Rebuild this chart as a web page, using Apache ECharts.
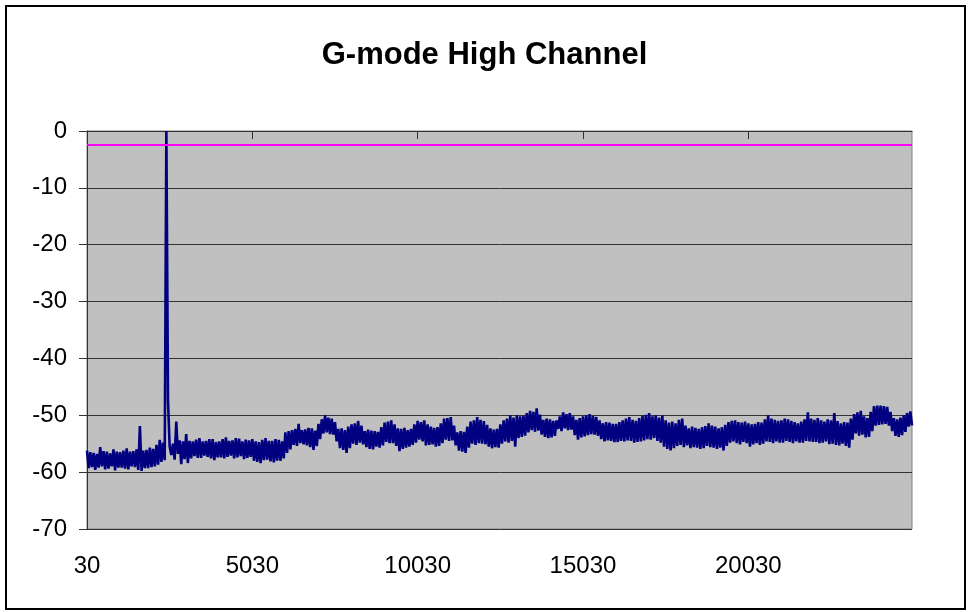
<!DOCTYPE html>
<html>
<head>
<meta charset="utf-8">
<script src="https://cdn.jsdelivr.net/npm/echarts@6/dist/echarts.min.js"></script>
<style>
  html, body { margin: 0; padding: 0; background: #fff; }
  #chart { width: 969px; height: 612px; }
</style>
</head>
<body>
<div id="chart"></div>
<script>
// x categories: 30, 80, 130 ... (step 50)
const xStart = 30;
const xStep = 50;
const xCount = 500;

// level, alternating top / bottom of the noise band
const level = [
  -56.2, -59.3, -56.5, -59.1, -56.6, -59.6, -56.8, -59.2, -55.6, -59.0, -56.3, -59.5, -56.4, -59.4, -56.7, -59.0, -56.0, -59.7, -56.4, -59.2,
  -56.5, -59.2, -56.2, -59.4, -55.8, -59.5, -56.4, -59.0, -56.3, -59.1, -56.0, -59.6, -51.9, -59.8, -56.2, -59.3, -56.1, -59.3, -55.7, -59.1,
  -55.9, -59.0, -55.2, -58.7, -54.3, -58.2, -54.8, -57.9, 0, -47.5, -55.5, -57.0, -55.0, -57.8, -51.1, -56.8, -54.4, -58.6, -54.6, -57.7,
  -53.3, -58.4, -54.5, -57.6, -54.6, -57.2, -54.3, -57.5, -54.0, -57.5, -54.6, -57.1, -54.5, -57.3, -54.2, -57.6, -54.2, -57.9, -54.7, -57.4,
  -54.6, -57.4, -54.2, -57.6, -53.9, -57.3, -54.5, -57.1, -54.4, -57.6, -54.0, -57.4, -54.1, -57.2, -54.6, -57.7, -54.3, -57.5, -54.4, -57.3,
  -54.2, -58.0, -54.6, -58.2, -54.7, -58.4, -54.3, -57.9, -54.0, -57.8, -54.5, -58.1, -54.5, -58.3, -54.2, -58.0, -54.3, -58.0, -54.6, -57.6,
  -53.0, -56.6, -52.8, -56.0, -52.6, -55.2, -52.4, -55.4, -51.5, -54.9, -52.6, -55.1, -52.5, -55.3, -52.2, -55.6, -52.3, -56.1, -52.7, -55.4,
  -51.5, -54.2, -50.7, -53.2, -50.0, -53.0, -50.4, -53.3, -50.6, -53.4, -51.2, -54.6, -52.4, -55.8, -52.3, -56.1, -52.6, -56.6, -52.0, -55.8,
  -51.6, -55.0, -51.4, -55.2, -51.0, -54.8, -51.8, -55.1, -52.8, -55.6, -52.5, -55.9, -52.7, -56.0, -52.8, -55.5, -52.9, -55.7, -52.1, -55.3,
  -51.3, -54.7, -51.1, -54.9, -50.9, -54.9, -51.6, -55.4, -52.3, -56.3, -52.4, -55.9, -52.2, -55.7, -52.6, -55.5, -52.4, -55.2, -51.6, -54.8,
  -51.0, -54.3, -51.2, -54.6, -50.9, -55.3, -51.6, -55.2, -52.0, -55.1, -52.2, -55.5, -52.1, -55.4, -51.4, -54.9, -50.6, -54.3, -50.5, -54.5,
  -50.3, -54.4, -51.8, -55.3, -53.0, -56.2, -52.8, -56.4, -52.9, -56.6, -52.0, -55.7, -51.1, -55.0, -50.9, -55.2, -50.3, -54.9, -50.8, -55.0,
  -51.0, -55.1, -51.7, -55.5, -52.3, -55.8, -52.5, -55.6, -52.4, -55.7, -51.6, -55.0, -50.9, -54.6, -50.6, -54.8, -50.0, -54.5, -50.4, -55.5,
  -50.0, -54.0, -50.2, -53.8, -50.1, -53.6, -49.6, -53.0, -49.2, -52.6, -49.4, -52.9, -48.8, -52.7, -49.9, -53.4, -50.8, -53.8, -50.6, -54.0,
  -50.7, -53.9, -51.0, -53.6, -50.9, -52.4, -50.2, -52.8, -49.5, -52.3, -49.8, -52.6, -49.6, -52.5, -50.2, -53.5, -50.8, -54.3, -50.5, -53.9,
  -50.2, -53.7, -50.0, -53.5, -49.8, -53.3, -50.1, -53.4, -50.3, -53.6, -50.9, -54.2, -51.4, -54.6, -51.2, -54.4, -51.3, -54.5, -51.5, -54.7,
  -51.5, -54.7, -51.2, -54.5, -50.9, -54.6, -50.6, -54.4, -50.3, -54.5, -50.8, -54.8, -51.0, -54.7, -50.5, -54.6, -50.1, -54.4, -49.9, -54.2,
  -49.6, -54.3, -50.2, -54.0, -50.0, -54.5, -50.4, -54.8, -50.1, -55.5, -50.9, -55.9, -51.3, -56.2, -51.1, -55.8, -51.4, -55.4, -50.8, -55.2,
  -50.6, -55.6, -51.8, -55.3, -52.3, -55.8, -52.0, -55.6, -52.2, -55.7, -52.4, -55.9, -52.1, -55.8, -51.9, -55.4, -51.4, -55.6, -51.8, -55.7,
  -52.0, -55.9, -52.3, -55.7, -52.1, -56.2, -51.7, -55.4, -51.2, -54.8, -51.0, -54.6, -50.9, -54.9, -51.2, -55.1, -51.3, -54.7, -51.1, -54.9,
  -51.4, -55.5, -51.6, -55.1, -51.5, -54.9, -51.2, -55.2, -51.3, -55.0, -50.7, -54.6, -50.0, -54.7, -50.6, -54.9, -50.8, -54.6, -51.0, -54.8,
  -50.9, -54.8, -50.6, -54.5, -50.7, -54.7, -51.0, -54.9, -51.2, -54.6, -51.4, -54.8, -51.1, -54.8, -50.7, -54.5, -49.5, -54.6, -50.6, -54.7,
  -50.8, -54.7, -50.5, -54.9, -50.9, -54.8, -51.1, -54.6, -50.7, -55.1, -50.9, -55.0, -49.6, -55.2, -51.0, -55.3, -51.4, -55.0, -51.2, -55.4,
  -51.3, -55.7, -50.6, -54.3, -49.8, -53.2, -49.5, -53.6, -49.2, -53.4, -50.2, -53.9, -50.5, -53.8, -49.4, -52.8, -48.4, -51.8, -48.3, -51.7,
  -48.3, -51.6, -48.4, -51.5, -48.5, -51.8, -49.4, -52.8, -50.5, -53.6, -50.7, -53.8, -50.4, -53.5, -50.0, -52.9, -49.6, -52.0, -49.3, -51.8
];

// magenta limit line
const limitLine = -2.5;

const yMin = -70;
const yMax = 0;
const yStep = 10;

const categories = [];
for (let i = 0; i < xCount; i++) {
  categories.push(String(xStart + i * xStep));
}

const labelFont = "'Liberation Sans', Arial, sans-serif";

let mychart = echarts.init(document.getElementById("chart"));
mychart.setOption({
  animation: false,
  backgroundColor: "#fff",
  title: {
    text: "G-mode High Channel",
    left: "center",
    top: 35,
    textStyle: {
      fontFamily: labelFont,
      fontSize: 31,
      fontWeight: "bold",
      color: "#000",
    },
  },
  graphic: [
    {
      type: "rect",
      shape: { x: 6, y: 6, width: 959, height: 603 },
      style: { fill: "none", stroke: "#000", lineWidth: 2 },
      silent: true,
    },
  ],
  grid: {
    left: 87,
    right: 57,
    top: 131,
    bottom: 83,
    show: true,
    backgroundColor: "#c0c0c0",
    borderColor: "#808080",
    borderWidth: 1,
  },
  xAxis: {
    type: "category",
    data: categories,
    boundaryGap: false,
    axisLine: { lineStyle: { color: "#333", width: 1 } },
    axisTick: { interval: 99, length: 8, lineStyle: { color: "#333" } },
    axisLabel: {
      interval: 99,
      margin: 25,
      color: "#000",
      fontSize: 24,
      fontFamily: labelFont,
    },
    splitLine: { show: false },
  },
  yAxis: {
    type: "value",
    min: yMin,
    max: yMax,
    interval: yStep,
    axisLine: { show: true, lineStyle: { color: "#333", width: 1 } },
    axisTick: { show: true, length: 8, lineStyle: { color: "#333" } },
    axisLabel: {
      margin: 20,
      color: "#000",
      fontSize: 24,
      fontFamily: labelFont,
    },
    splitLine: { show: true, lineStyle: { color: "#333", width: 1 } },
  },
  series: [
    {
      name: "High Channel",
      type: "line",
      data: level,
      showSymbol: false,
      lineStyle: { color: "#000080", width: 2.6 },
      itemStyle: { color: "#000080" },
      markLine: {
        silent: true,
        symbol: "none",
        label: { show: false },
        lineStyle: { color: "#ff00ff", width: 2, type: "solid" },
        data: [{ yAxis: limitLine }],
      },
    },
  ],
});
</script>
</body>
</html>
